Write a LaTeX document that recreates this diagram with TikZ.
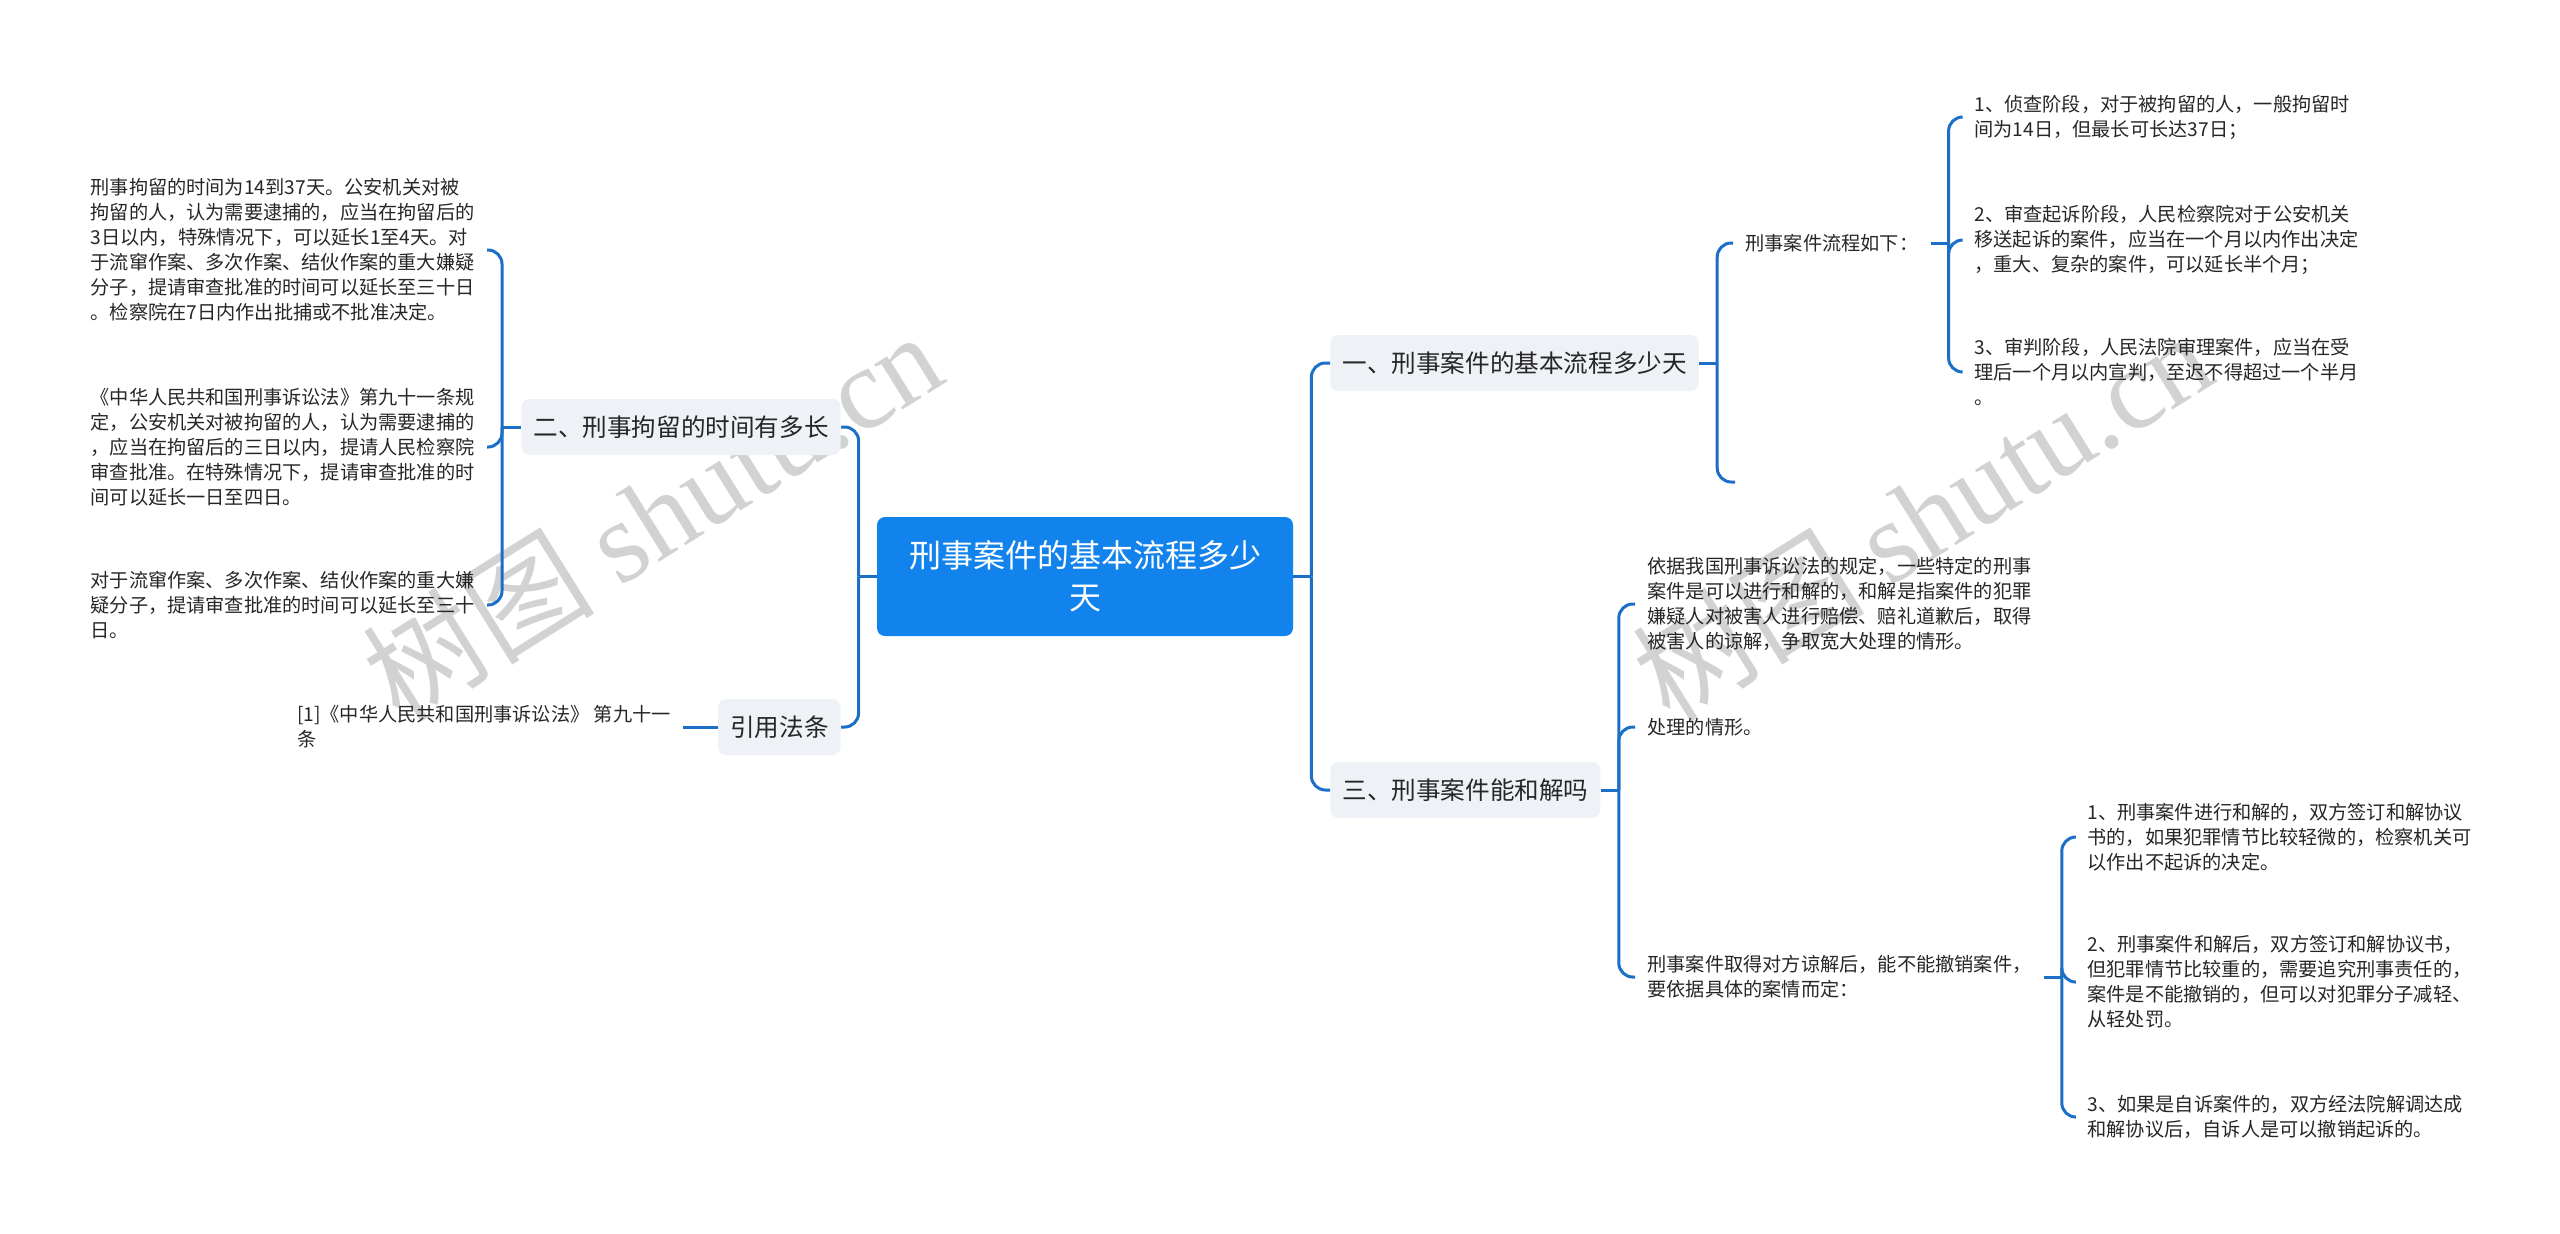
\documentclass[tikz,border=0pt]{standalone}
\usepackage{fontspec}
\setmainfont{Noto Sans CJK SC}
\newfontfamily\wmserif{Liberation Serif}
\usetikzlibrary{calc}
\definecolor{rootblue}{HTML}{1283EC}
\definecolor{linkblue}{HTML}{1B6FC6}
\definecolor{topicgray}{HTML}{EEF1F5}
\definecolor{inkdark}{HTML}{262626}
\definecolor{wmgray}{HTML}{D2D2D2}

\begin{document}
\begin{tikzpicture}[x=0.5pt,y=-0.5pt,
root box/.style={fill=rootblue,rounded corners=4pt,text=white,align=center,minimum width=208pt,minimum height=59.5pt,inner sep=0pt,font={\fontsize{16}{21}\selectfont}},
topic box/.style={fill=topicgray,rounded corners=4pt,text=inkdark,inner xsep=6pt,inner ysep=0pt,minimum height=28pt,font={\fontsize{12.3}{15}\selectfont}},
leaf/.style={align=left,text=inkdark,inner xsep=6pt,inner ysep=0pt,font={\fontsize{9.6}{12.5}\selectfont}},
link/.style={draw=linkblue,line width=1.5pt,rounded corners=7pt},
wm text/.style={rotate=32,text=wmgray,inner sep=0pt,font={\fontsize{58}{58}\selectfont}}]
\useasboundingbox (0,0) rectangle (2560,1233);
% watermark
\node[wm text] (wm1) at (652,515) {树图 {\wmserif shutu.cn}};
\node[wm text] (wm2) at (1922,515) {树图 {\wmserif shutu.cn}};
% centre and main topics
\node[root box] (root) at (1085,576.5) {刑事案件的基本流程多少\\天};
\node[topic box,anchor=east] (t2) at (841,427) {二、刑事拘留的时间有多长};
\node[topic box,anchor=east] (t4) at (841,727) {引用法条};
\node[topic box,anchor=west] (t1) at (1330,363) {一、刑事案件的基本流程多少天};
\node[topic box,anchor=west] (t3) at (1330,790) {三、刑事案件能和解吗};
% left side
\node[leaf,anchor=east] (d1) at (487,250) {刑事拘留的时间为14到37天。公安机关对被\\拘留的人，认为需要逮捕的，应当在拘留后的\\3日以内，特殊情况下，可以延长1至4天。对\\于流窜作案、多次作案、结伙作案的重大嫌疑\\分子，提请审查批准的时间可以延长至三十日\\。检察院在7日内作出批捕或不批准决定。};
\node[leaf,anchor=east] (d2) at (487,447) {《中华人民共和国刑事诉讼法》第九十一条规\\定，公安机关对被拘留的人，认为需要逮捕的\\，应当在拘留后的三日以内，提请人民检察院\\审查批准。在特殊情况下，提请审查批准的时\\间可以延长一日至四日。};
\node[leaf,anchor=east] (d3) at (487,605) {对于流窜作案、多次作案、结伙作案的重大嫌\\疑分子，提请审查批准的时间可以延长至三十\\日。};
\node[leaf,anchor=east] (r1) at (683,727) {[1]《中华人民共和国刑事诉讼法》 第九十一\\条};
% right side, first topic
\node[leaf,anchor=west] (f0) at (1733,243) {刑事案件流程如下：};
\coordinate (f4) at (1735,482);
\node[leaf,anchor=west] (f1) at (1962,117) {1、侦查阶段，对于被拘留的人，一般拘留时\\间为14日，但最长可长达37日；};
\node[leaf,anchor=west] (f2) at (1962,240) {2、审查起诉阶段，人民检察院对于公安机关\\移送起诉的案件，应当在一个月以内作出决定\\，重大、复杂的案件，可以延长半个月；};
\node[leaf,anchor=west] (f3) at (1962,372) {3、审判阶段，人民法院审理案件，应当在受\\理后一个月以内宣判，至迟不得超过一个半月\\。};
% right side, third topic
\node[leaf,anchor=west] (h1) at (1635,604) {依据我国刑事诉讼法的规定，一些特定的刑事\\案件是可以进行和解的，和解是指案件的犯罪\\嫌疑人对被害人进行赔偿、赔礼道歉后，取得\\被害人的谅解，争取宽大处理的情形。};
\node[leaf,anchor=west] (h2) at (1635,727) {处理的情形。};
\node[leaf,anchor=west] (h3) at (1635,977) {刑事案件取得对方谅解后，能不能撤销案件，\\要依据具体的案情而定：};
\node[leaf,anchor=west] (g1) at (2075,837) {1、刑事案件进行和解的，双方签订和解协议\\书的，如果犯罪情节比较轻微的，检察机关可\\以作出不起诉的决定。};
\node[leaf,anchor=west] (g2) at (2075,982) {2、刑事案件和解后，双方签订和解协议书，\\但犯罪情节比较重的，需要追究刑事责任的，\\案件是不能撤销的，但可以对犯罪分子减轻、\\从轻处罚。};
\node[leaf,anchor=west] (g3) at (2075,1117) {3、如果是自诉案件的，双方经法院解调达成\\和解协议后，自诉人是可以撤销起诉的。};
% connectors
\draw[link] (root.west) -- ++(-18,0);
\foreach \c in {t2,t4} \draw[link] (\c.east) -| ($(root.west)+(-18,0)$);
\draw[link] (root.east) -- ++(18,0);
\foreach \c in {t1,t3} \draw[link] (\c.west) -| ($(root.east)+(18,0)$);
\draw[link] (t2.west) -- ++(-19,0);
\foreach \c in {d1,d2,d3} \draw[link] (\c.east) -| ($(t2.west)+(-19,0)$);
\draw[link] (t4.west) -- (r1.east);
\draw[link] (t1.east) -- ++(18,0);
\draw[link] (f0.west) -| ($(t1.east)+(18,0)$);
\draw[link] (f4) -| ($(t1.east)+(18,0)$);
\draw[link] (f0.east) -- ++(18,0);
\foreach \c in {f1,f2,f3} \draw[link] (\c.west) -| ($(f0.east)+(18,0)$);
\draw[link] (t3.east) -- ++(18,0);
\foreach \c in {h1,h2,h3} \draw[link] (\c.west) -| ($(t3.east)+(18,0)$);
\draw[link] (h3.east) -- ++(18,0);
\foreach \c in {g1,g2,g3} \draw[link] (\c.west) -| ($(h3.east)+(18,0)$);
\end{tikzpicture}
\end{document}
